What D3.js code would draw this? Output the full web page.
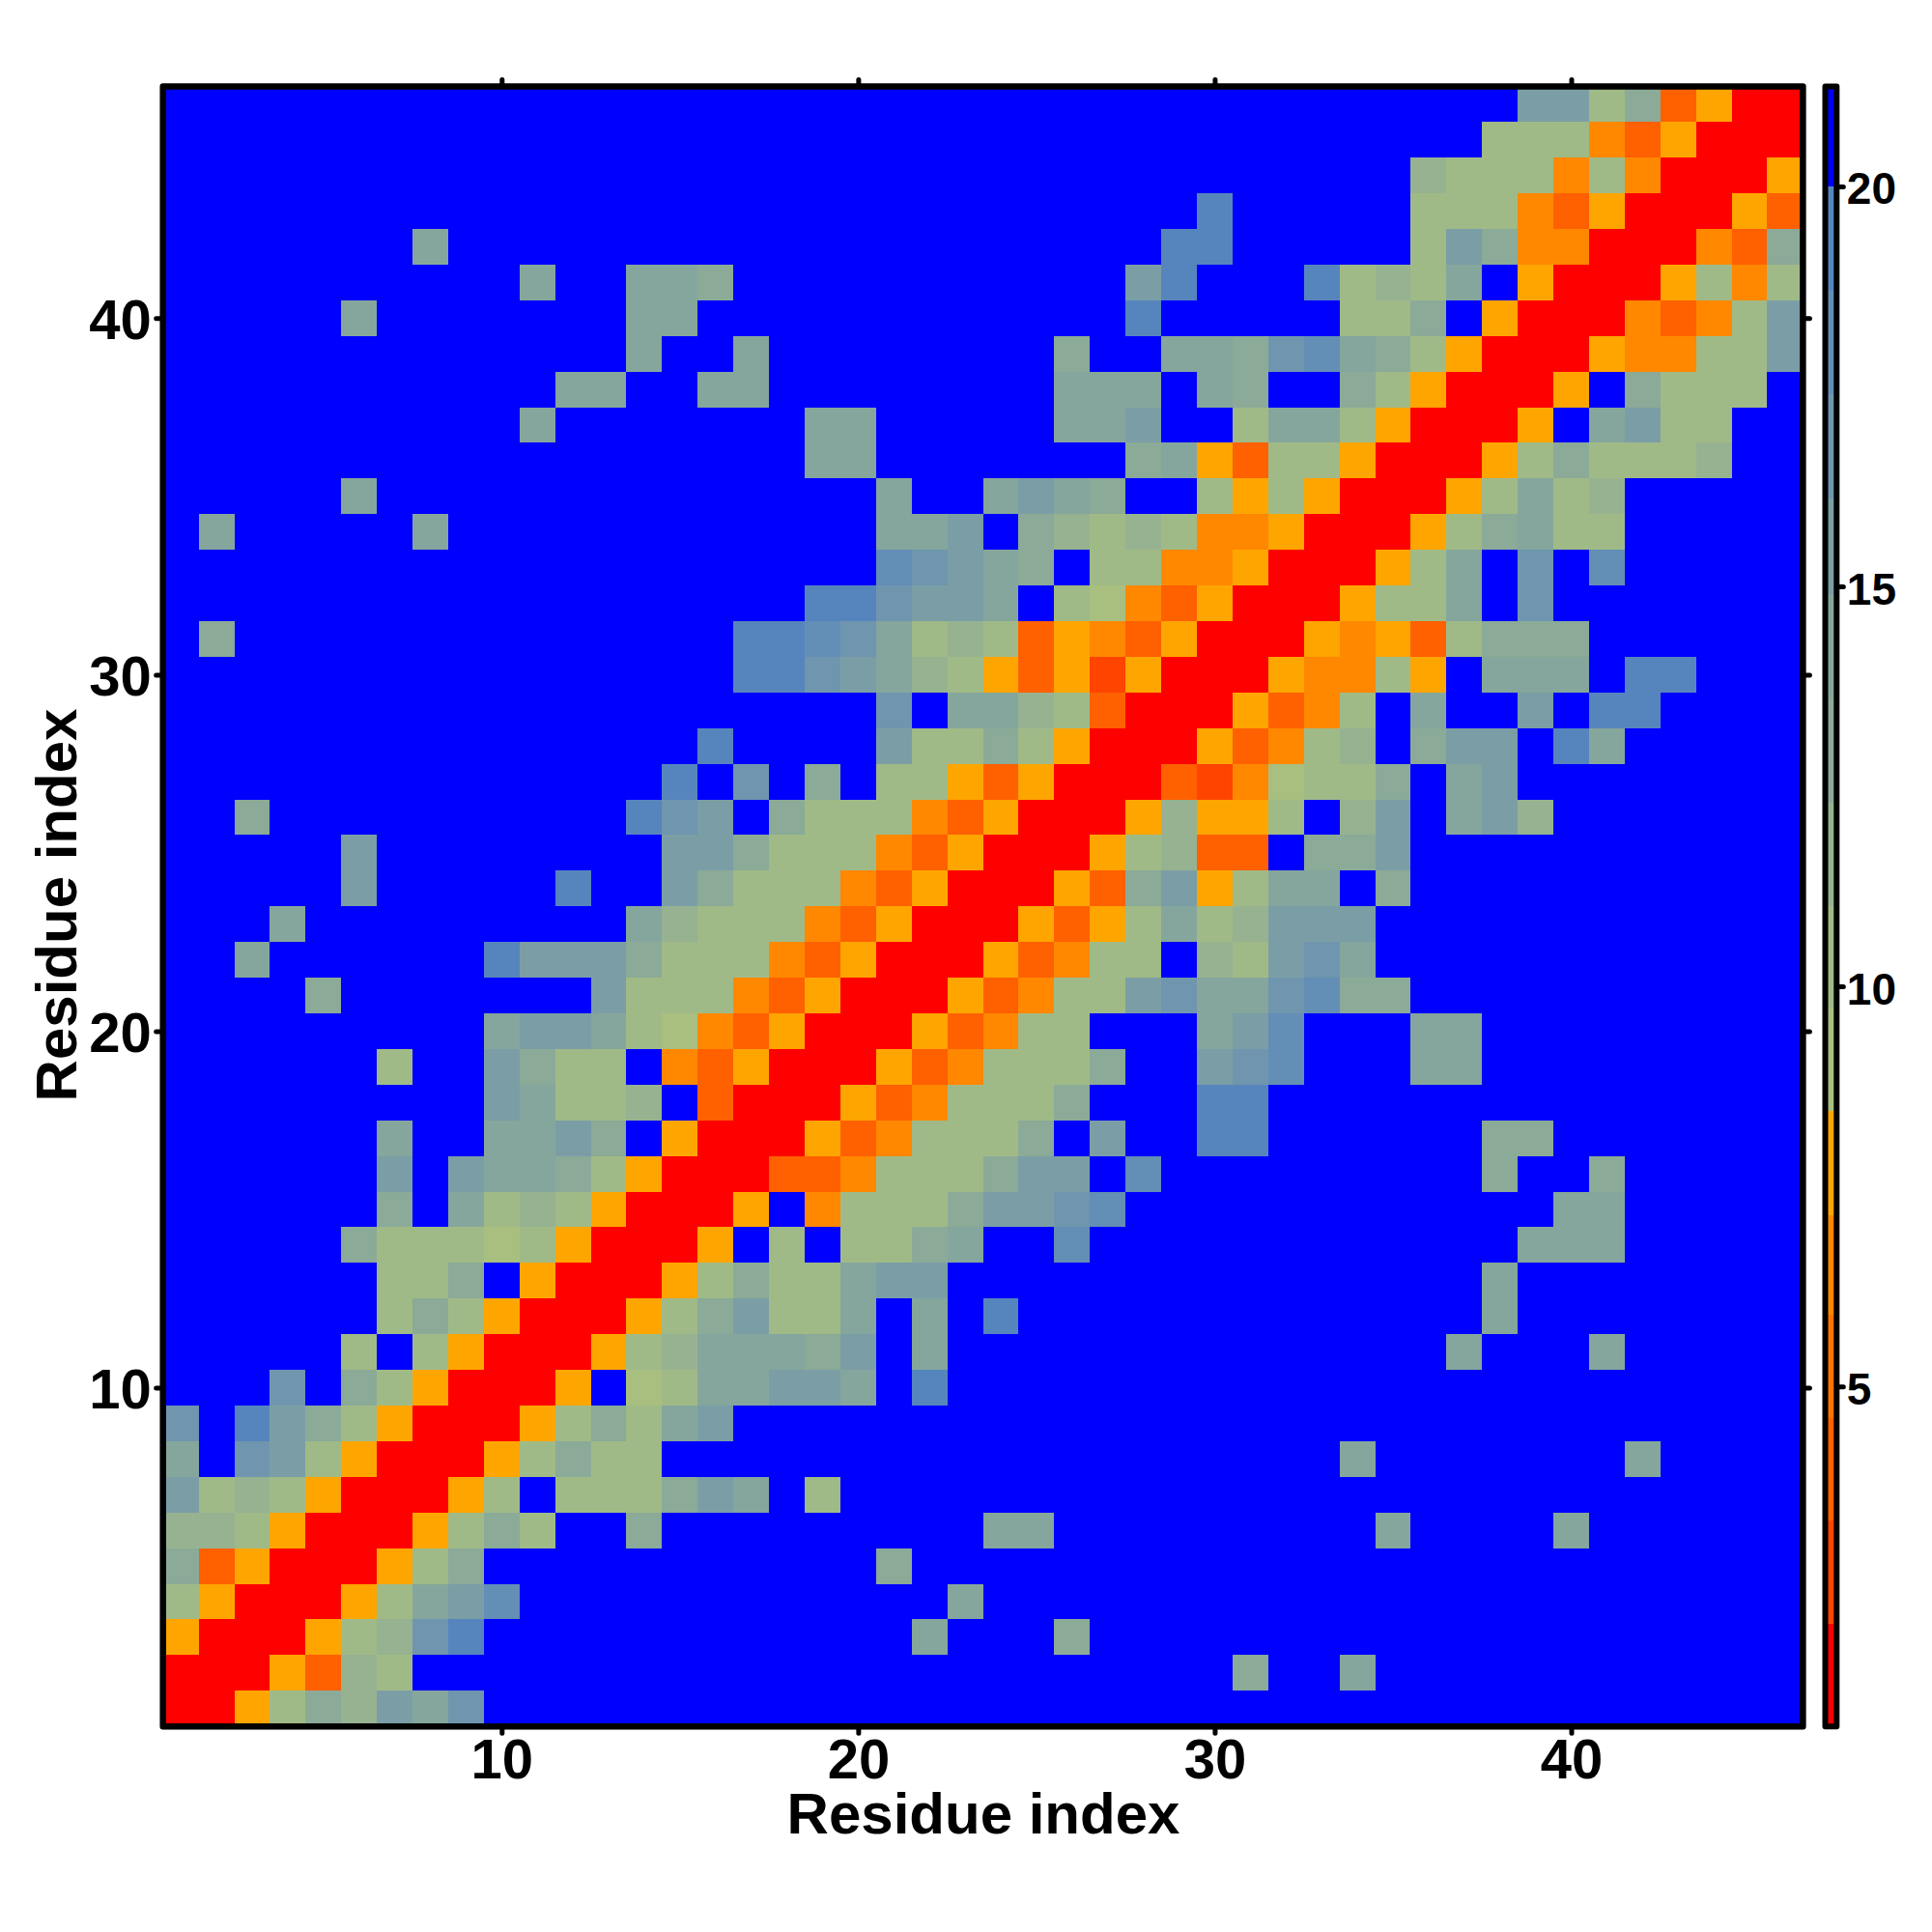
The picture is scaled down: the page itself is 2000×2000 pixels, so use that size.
<!DOCTYPE html>
<html><head><meta charset="utf-8">
<script src="https://cdn.jsdelivr.net/npm/d3@7/dist/d3.min.js"></script>
<style>html,body{margin:0;padding:0;background:#fff}svg{display:block}</style>
</head><body><svg id="c" width="2000" height="2000"></svg>
<script>
const residues = d3.range(1, 47);
const axisTicks = [10, 20, 30, 40];
const colorbarTicks = [5, 10, 15, 20];
const colorBreaks = [0.75, 2.03, 3.33, 4.6, 5.9, 7.14, 8.44, 9.72, 11, 12.3, 13.6, 14.9, 16.1, 17.4, 18.7, 20, 21.25];
const colorLevels = ["#ff0000","#ff4400","#ff6000","#ff7400","#ff8800","#ffa500","#a8bf80","#a0ba87","#96b290","#8baa98","#85a69c","#7b9ea6","#6f96ae","#638eb6","#5685bd","#0000ff"];

const r46 = [21,21,21,21,21,21,21,21,21,21, 21,21,21,21,21,21,21,21,21,21, 21,21,21,21,21,21,21,21,21,21, 21,21,21,21,21,21,21,21,16,16, 10,13,4,8,1,1];
const r45 = [21,21,21,21,21,21,21,21,21,21, 21,21,21,21,21,21,21,21,21,21, 21,21,21,21,21,21,21,21,21,21, 21,21,21,21,21,21,21,10,10,10, 7,4,8,1,1,1];
const r44 = [21,21,21,21,21,21,21,21,21,21, 21,21,21,21,21,21,21,21,21,21, 21,21,21,21,21,21,21,21,21,21, 21,21,21,21,21,12,10,10,10,7, 10,7,1,1,1,8];
const r43 = [21,21,21,21,21,21,21,21,21,21, 21,21,21,21,21,21,21,21,21,21, 21,21,21,21,21,21,21,21,21,19, 21,21,21,21,21,10,10,10,7,4, 8,1,1,1,8,4];
const r42 = [21,21,21,21,21,21,21,14,21,21, 21,21,21,21,21,21,21,21,21,21, 21,21,21,21,21,21,21,21,19,19, 21,21,21,21,21,10,16,13,7,7, 1,1,1,7,4,13];
const r41 = [21,21,21,21,21,21,21,21,21,21, 14,21,21,14,14,13,21,21,21,21, 21,21,21,21,21,21,21,16,19,21, 21,21,19,10,12,10,14,21,8,1, 1,1,8,10,7,10];
const r40 = [21,21,21,21,21,14,21,21,21,21, 21,21,21,14,14,21,21,21,21,21, 21,21,21,21,21,21,21,19,21,21, 21,21,21,10,10,13,21,8,1,1, 1,7,4,7,10,16];
const r39 = [21,21,21,21,21,21,21,21,21,21, 21,21,21,14,21,21,14,21,21,21, 21,21,21,21,21,13,21,21,14,14, 13,17,18,14,13,10,8,1,1,1, 8,7,7,10,10,16];
const r38 = [21,21,21,21,21,21,21,21,21,21, 21,14,14,21,21,14,14,21,21,21, 21,21,21,21,21,14,14,14,21,14, 13,21,21,13,10,8,1,1,1,8, 21,13,10,10,10,21];
const r37 = [21,21,21,21,21,21,21,21,21,21, 14,21,21,21,21,21,21,21,14,14, 21,21,21,21,21,14,14,16,21,21, 10,14,14,10,8,1,1,1,8,21, 14,16,10,10,21,21];
const r36 = [21,21,21,21,21,21,21,21,21,21, 21,21,21,21,21,21,21,21,14,14, 21,21,21,21,21,21,21,13,14,8, 4,10,10,8,1,1,1,8,10,13, 10,10,10,12,21,21];
const r35 = [21,21,21,21,21,14,21,21,21,21, 21,21,21,21,21,21,21,21,21,21, 14,21,21,14,16,14,13,21,21,10, 8,10,8,1,1,1,8,10,14,10, 12,21,21,21,21,21];
const r34 = [21,14,21,21,21,21,21,14,21,21, 21,21,21,21,21,21,21,21,21,21, 14,14,16,21,13,12,10,12,10,7, 7,8,1,1,1,8,10,13,14,10, 10,21,21,21,21,21];
const r33 = [21,21,21,21,21,21,21,21,21,21, 21,21,21,21,21,21,21,21,21,21, 18,17,16,14,13,21,10,10,7,7, 8,1,1,1,8,10,14,21,17,21, 18,21,21,21,21,21];
const r32 = [21,21,21,21,21,21,21,21,21,21, 21,21,21,21,21,21,21,21,19,19, 17,16,16,14,21,10,9,7,4,8, 1,1,1,8,10,10,14,21,17,21, 21,21,21,21,21,21];
const r31 = [21,13,21,21,21,21,21,21,21,21, 21,21,21,21,21,21,19,19,18,17, 14,10,12,10,4,8,7,4,8,1, 1,1,8,7,8,4,10,13,13,13, 21,21,21,21,21,21];
const r30 = [21,21,21,21,21,21,21,21,21,21, 21,21,21,21,21,21,19,19,17,16, 14,12,10,8,4,8,3,8,1,1, 1,8,7,7,10,8,21,14,14,14, 21,19,19,21,21,21];
const r29 = [21,21,21,21,21,21,21,21,21,21, 21,21,21,21,21,21,21,21,21,21, 17,21,14,14,12,10,4,1,1,1, 8,4,7,10,21,14,21,21,16,21, 19,19,21,21,21,21];
const r28 = [21,21,21,21,21,21,21,21,21,21, 21,21,21,21,21,19,21,21,21,21, 16,10,10,13,10,8,1,1,1,8, 4,7,10,12,21,13,16,16,21,19, 14,21,21,21,21,21];
const r27 = [21,21,21,21,21,21,21,21,21,21, 21,21,21,21,19,21,17,21,13,21, 10,10,8,4,8,1,1,1,4,3, 7,9,10,10,13,21,14,16,21,21, 21,21,21,21,21,21];
const r26 = [21,21,13,21,21,21,21,21,21,21, 21,21,21,19,17,16,21,13,10,10, 10,7,4,8,1,1,1,8,12,8, 8,10,21,12,16,21,14,16,12,21, 21,21,21,21,21,21];
const r25 = [21,21,21,21,21,16,21,21,21,21, 21,21,21,21,16,16,13,10,10,10, 7,4,8,1,1,1,8,10,12,4, 4,21,13,13,16,21,21,21,21,21, 21,21,21,21,21,21];
const r24 = [21,21,21,21,21,16,21,21,21,21, 21,19,21,21,16,13,10,10,10,7, 4,8,1,1,1,8,4,13,16,8, 10,14,14,21,13,21,21,21,21,21, 21,21,21,21,21,21];
const r23 = [21,21,21,14,21,21,21,21,21,21, 21,21,21,14,12,10,10,10,7,4, 8,1,1,1,8,4,8,10,14,10, 12,16,16,16,21,21,21,21,21,21, 21,21,21,21,21,21];
const r22 = [21,21,14,21,21,21,21,21,21,19, 16,16,16,13,10,10,10,7,4,8, 1,1,1,8,4,7,10,10,21,12, 10,16,17,14,21,21,21,21,21,21, 21,21,21,21,21,21];
const r21 = [21,21,21,21,13,21,21,21,21,21, 21,21,16,10,10,10,7,4,8,1, 1,1,8,4,7,10,10,16,17,14, 14,17,18,13,13,21,21,21,21,21, 21,21,21,21,21,21];
const r20 = [21,21,21,21,21,21,21,21,21,14, 16,16,14,10,9,7,4,8,1,1, 1,8,4,7,10,10,21,21,21,14, 16,18,21,21,21,14,14,21,21,21, 21,21,21,21,21,21];
const r19 = [21,21,21,21,21,21,10,21,21,16, 13,10,10,21,7,4,8,1,1,1, 8,4,7,10,10,10,13,21,21,16, 17,18,21,21,21,14,14,21,21,21, 21,21,21,21,21,21];
const r18 = [21,21,21,21,21,21,21,21,21,16, 14,10,10,12,21,4,1,1,1,8, 4,7,10,10,10,13,21,21,21,19, 19,21,21,21,21,21,21,21,21,21, 21,21,21,21,21,21];
const r17 = [21,21,21,21,21,21,14,21,21,14, 14,16,13,21,8,1,1,1,8,4, 7,10,10,10,13,21,16,21,21,19, 19,21,21,21,21,21,21,13,13,21, 21,21,21,21,21,21];
const r16 = [21,21,21,21,21,21,16,21,16,14, 14,13,10,8,1,1,1,4,4,7, 10,10,10,13,16,16,21,18,21,21, 21,21,21,21,21,21,21,13,21,21, 13,21,21,21,21,21];
const r15 = [21,21,21,21,21,21,13,21,14,10, 12,10,8,1,1,1,8,21,7,10, 10,10,13,16,16,17,18,21,21,21, 21,21,21,21,21,21,21,21,21,14, 14,21,21,21,21,21];
const r14 = [21,21,21,21,21,13,10,10,10,9, 10,8,1,1,1,8,21,10,21,10, 10,13,14,21,21,18,21,21,21,21, 21,21,21,21,21,21,21,21,14,14, 14,21,21,21,21,21];
const r13 = [21,21,21,21,21,21,10,10,13,21, 8,1,1,1,8,10,13,10,10,14, 16,16,21,21,21,21,21,21,21,21, 21,21,21,21,21,21,21,14,21,21, 21,21,21,21,21,21];
const r12 = [21,21,21,21,21,21,10,13,10,8, 1,1,1,8,10,13,16,10,10,14, 21,14,21,19,21,21,21,21,21,21, 21,21,21,21,21,21,21,14,21,21, 21,21,21,21,21,21];
const r11 = [21,21,21,21,21,10,21,10,8,1, 1,1,8,10,12,14,14,14,13,16, 21,14,21,21,21,21,21,21,21,21, 21,21,21,21,21,21,14,21,21,21, 14,21,21,21,21,21];
const r10 = [21,21,21,17,21,13,10,8,1,1, 1,8,21,9,10,14,14,16,16,14, 21,19,21,21,21,21,21,21,21,21, 21,21,21,21,21,21,21,21,21,21, 21,21,21,21,21,21];
const r09 = [17,21,19,16,13,10,8,1,1,1, 8,10,13,10,14,16,21,21,21,21, 21,21,21,21,21,21,21,21,21,21, 21,21,21,21,21,21,21,21,21,21, 21,21,21,21,21,21];
const r08 = [14,21,17,16,10,8,1,1,1,8, 10,13,10,10,21,21,21,21,21,21, 21,21,21,21,21,21,21,21,21,21, 21,21,21,14,21,21,21,21,21,21, 21,14,21,21,21,21];
const r07 = [16,10,12,10,8,1,1,1,8,10, 21,10,10,10,13,16,14,21,10,21, 21,21,21,21,21,21,21,21,21,21, 21,21,21,21,21,21,21,21,21,21, 21,21,21,21,21,21];
const r06 = [12,12,10,8,1,1,1,8,10,13, 10,21,21,13,21,21,21,21,21,21, 21,21,21,14,14,21,21,21,21,21, 21,21,21,21,14,21,21,21,21,14, 21,21,21,21,21,21];
const r05 = [13,4,8,1,1,1,8,10,13,21, 21,21,21,21,21,21,21,21,21,21, 13,21,21,21,21,21,21,21,21,21, 21,21,21,21,21,21,21,21,21,21, 21,21,21,21,21,21];
const r04 = [10,8,1,1,1,8,10,14,16,18, 21,21,21,21,21,21,21,21,21,21, 21,21,14,21,21,21,21,21,21,21, 21,21,21,21,21,21,21,21,21,21, 21,21,21,21,21,21];
const r03 = [8,1,1,1,8,10,12,17,19,21, 21,21,21,21,21,21,21,21,21,21, 21,14,21,21,21,13,21,21,21,21, 21,21,21,21,21,21,21,21,21,21, 21,21,21,21,21,21];
const r02 = [1,1,1,8,4,12,10,21,21,21, 21,21,21,21,21,21,21,21,21,21, 21,21,21,21,21,21,21,21,21,21, 13,21,21,14,21,21,21,21,21,21, 21,21,21,21,21,21];
const r01 = [1,1,8,10,13,12,16,14,17,21, 21,21,21,21,21,21,21,21,21,21, 21,21,21,21,21,21,21,21,21,21, 21,21,21,21,21,21,21,21,21,21, 21,21,21,21,21,21];

const matrix = [r01,r02,r03,r04,r05,r06,r07,r08,r09,r10,r11,r12,r13,r14,r15,r16,r17,r18,r19,r20,r21,r22,r23,
                r24,r25,r26,r27,r28,r29,r30,r31,r32,r33,r34,r35,r36,r37,r38,r39,r40,r41,r42,r43,r44,r45,r46];

const svg = d3.select("#c");
const FONT = '"Liberation Sans", Arial, sans-serif';
const x = d3.scaleLinear().domain([0.5, 46.5]).range([168.7, 1866.4]);
const y = d3.scaleLinear().domain([0.5, 46.5]).range([1787.2, 89.4]);
const color = d3.scaleThreshold().domain(colorBreaks.slice(1, -1)).range(colorLevels);

const cells = [];
matrix.forEach((row, j) => row.forEach((v, i) => cells.push({ i: residues[i], j: residues[j], v })));
svg.append("g").attr("shape-rendering", "crispEdges").selectAll("rect").data(cells).join("rect")
  .attr("x", d => x(d.i - 0.5)).attr("y", d => y(d.j + 0.5))
  .attr("width", x(1.5) - x(0.5)).attr("height", y(0.5) - y(1.5))
  .attr("fill", d => color(d.v));

function styleAxis(g, size) {
  g.select(".domain").remove();
  g.selectAll(".tick line").attr("stroke", "#000").attr("stroke-width", 5).attr("stroke-linecap", "round");
  g.selectAll(".tick text").attr("fill", "#000").attr("font-family", FONT).attr("font-weight", "bold").attr("font-size", size);
}
const T = 7;
const gB = svg.append("g").attr("transform", `translate(0,${y(0.5)})`)
  .call(d3.axisBottom(x).tickValues(axisTicks).tickSize(T).tickFormat(d3.format("d")));
styleAxis(gB, 58); gB.selectAll(".tick text").attr("y", 54).attr("dy", 0);
const gT = svg.append("g").attr("transform", `translate(0,${y(46.5)})`)
  .call(d3.axisTop(x).tickValues(axisTicks).tickSize(T).tickFormat(""));
styleAxis(gT, 58);
const gL = svg.append("g").attr("transform", `translate(${x(0.5)},0)`)
  .call(d3.axisLeft(y).tickValues(axisTicks).tickSize(T).tickFormat(d3.format("d")));
styleAxis(gL, 58); gL.selectAll(".tick text").attr("x", -12).attr("dy", 0).attr("y", 21);
const gR = svg.append("g").attr("transform", `translate(${x(46.5)},0)`)
  .call(d3.axisRight(y).tickValues(axisTicks).tickSize(T).tickFormat(""));
styleAxis(gR, 58);

svg.append("rect").attr("x", x(0.5)).attr("y", y(46.5)).attr("width", x(46.5) - x(0.5)).attr("height", y(0.5) - y(46.5))
  .attr("fill", "none").attr("stroke", "#000").attr("stroke-width", 6.5).attr("stroke-linejoin", "round");

// colour bar
const barY = d3.scaleLinear().domain([0.75, 21.25]).range([1787.2, 89.4]);
const barX0 = 1889.5, barX1 = 1901.3;
svg.append("g").attr("shape-rendering", "crispEdges").selectAll("rect").data(colorLevels).join("rect")
  .attr("x", barX0).attr("width", barX1 - barX0)
  .attr("y", (d, k) => barY(colorBreaks[k + 1]))
  .attr("height", (d, k) => barY(colorBreaks[k]) - barY(colorBreaks[k + 1]))
  .attr("fill", d => d);
const gC = svg.append("g").attr("transform", `translate(${barX1},0)`)
  .call(d3.axisRight(barY).tickValues(colorbarTicks).tickSize(T).tickFormat(d3.format("d")));
styleAxis(gC, 46); gC.selectAll(".tick text").attr("x", 10.5).attr("dy", 0).attr("y", 18).attr("text-anchor", "start");
svg.append("rect").attr("x", barX0).attr("y", barY(21.25)).attr("width", barX1 - barX0).attr("height", barY(0.75) - barY(21.25))
  .attr("fill", "none").attr("stroke", "#000").attr("stroke-width", 6).attr("stroke-linejoin", "round");

// axis titles
svg.append("text").attr("x", 1023 - 5).attr("y", 1898).attr("text-anchor", "middle")
  .attr("font-family", FONT).attr("font-weight", "bold").attr("font-size", 60).text("Residue index");
svg.append("text").attr("transform", "translate(79,937) rotate(-90)").attr("text-anchor", "middle")
  .attr("font-family", FONT).attr("font-weight", "bold").attr("font-size", 60).text("Residue index");
</script></body></html>
